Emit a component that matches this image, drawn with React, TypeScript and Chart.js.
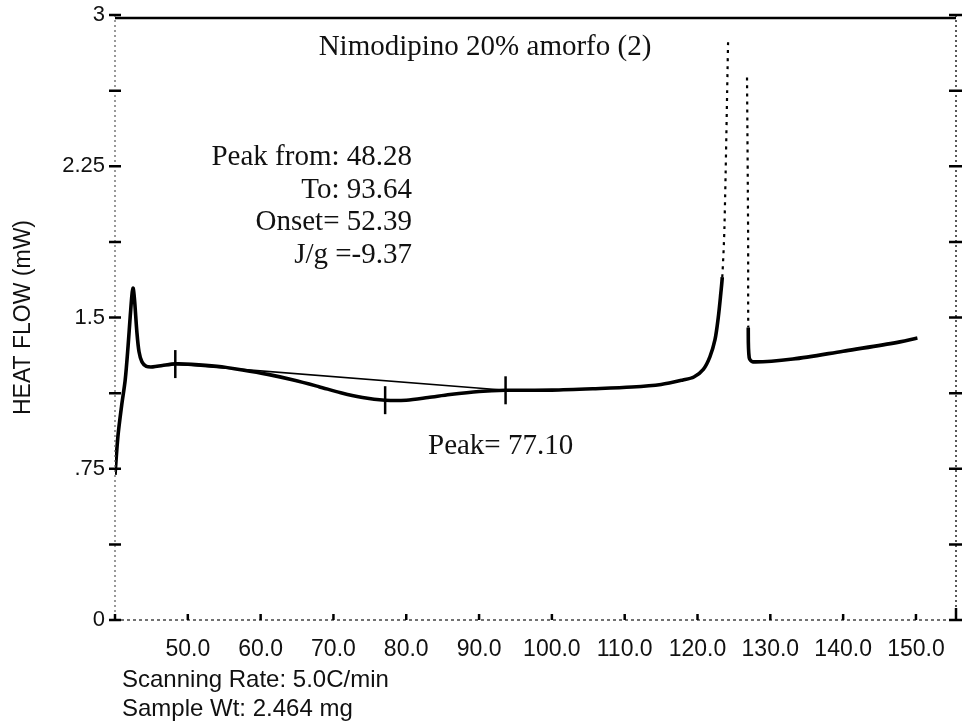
import React, { useEffect, useRef } from 'react';
import { Chart, registerables } from 'chart.js';

Chart.register(...registerables);

// ---- data ----
const tempC: number[] = [
  40.0, 40.4, 40.9, 41.4, 41.8, 42.1, 42.35, 42.5, 42.7, 43.0, 43.3, 43.7, 44.3, 45.2, 46.5,
  48.3, 50.5, 54.0, 57.5, 61.0, 64.5, 68.0, 71.0, 74.0, 77.1, 80.0, 83.0, 86.0, 90.0, 93.6,
  100.0, 106.0, 111.0, 115.0, 118.0, 119.5, 120.8, 121.7, 122.4, 122.85, 123.2, 123.4, 123.7, 124.2,
  125.5,
  126.8, 126.95, 126.97, 127.1, 127.6, 133.1, 140.0, 146.9, 150.2,
];
const heatFlow: (number | null)[] = [
  0.72, 0.91, 1.06, 1.19, 1.36, 1.51, 1.62, 1.645, 1.58, 1.43, 1.33, 1.28, 1.258, 1.255, 1.262,
  1.27, 1.268, 1.258, 1.24, 1.218, 1.19, 1.157, 1.127, 1.103, 1.09, 1.09, 1.103, 1.118, 1.133, 1.139,
  1.14, 1.147, 1.155, 1.168, 1.19, 1.205, 1.243, 1.305, 1.39, 1.5, 1.62, 1.7, 1.95, 2.87,
  null,
  2.69, 1.9, 1.45, 1.3, 1.28, 1.294, 1.333, 1.373, 1.398,
];
const peakMarkTemps = [48.28, 77.1, 93.64];
const peakMarkFlows = [1.269, 1.09, 1.139];
const baselineTemps = [48.28, 93.64];
const baselineFlows = [1.269, 1.139];

const xMin = 40;
const xMax = 155.5;
const yMin = 0;
const yMax = 3;
const xTickValues = [40, 50, 60, 70, 80, 90, 100, 110, 120, 130, 140, 150];
const yTickValues = [0, 0.375, 0.75, 1.125, 1.5, 1.875, 2.25, 2.625, 3];
const yLabelValues = [0, 0.75, 1.5, 2.25, 3];
const yLabelTexts = ['0', '.75', '1.5', '2.25', '3'];

const chartTitle = 'Nimodipino 20% amorfo (2)';
const peakInfoLines = ['Peak from: 48.28', 'To: 93.64', 'Onset= 52.39', 'J/g =-9.37'];
const peakLabel = 'Peak= 77.10';
const footerLines = ['Scanning Rate: 5.0C/min', 'Sample Wt: 2.464 mg'];
const yAxisTitle = 'HEAT FLOW (mW)';

const SANS = '"Liberation Sans", Arial, sans-serif';
const SERIF = '"Liberation Serif", "Times New Roman", serif';

const framePlugin = {
  id: 'dscFrame',
  afterDraw(chart: any) {
    const { ctx, chartArea } = chart;
    const { left, right, top, bottom } = chartArea;
    const xs = chart.scales.x;
    const ys = chart.scales.y;
    ctx.save();
    // top line (solid)
    ctx.strokeStyle = '#000';
    ctx.lineWidth = 2.5;
    ctx.setLineDash([]);
    ctx.beginPath();
    ctx.moveTo(left, top + 3);
    ctx.lineTo(right, top + 3);
    ctx.stroke();
    // left / right / bottom dotted axes
    ctx.lineWidth = 1.2;
    ctx.strokeStyle = '#555';
    ctx.setLineDash([2, 3]);
    ctx.beginPath();
    ctx.moveTo(left, top);
    ctx.lineTo(left, bottom);
    ctx.stroke();
    ctx.strokeStyle = '#222';
    ctx.lineWidth = 1.5;
    ctx.beginPath();
    ctx.moveTo(right, top);
    ctx.lineTo(right, bottom);
    ctx.stroke();
    ctx.strokeStyle = '#444';
    ctx.lineWidth = 1.3;
    ctx.setLineDash([3, 3]);
    ctx.beginPath();
    ctx.moveTo(left, bottom);
    ctx.lineTo(right, bottom);
    ctx.stroke();
    ctx.setLineDash([]);
    // y cross ticks on both sides
    ctx.strokeStyle = '#000';
    ctx.lineWidth = 2.5;
    for (const v of yTickValues) {
      const py = ys.getPixelForValue(v);
      ctx.beginPath();
      ctx.moveTo(left - 6, py);
      ctx.lineTo(left + 6, py);
      ctx.moveTo(right - 7, py);
      ctx.lineTo(right + 6, py);
      ctx.stroke();
    }
    // x small ticks
    for (const v of xTickValues) {
      const px = xs.getPixelForValue(v);
      ctx.beginPath();
      ctx.moveTo(px, bottom);
      ctx.lineTo(px, bottom - 6);
      ctx.stroke();
    }
    ctx.beginPath();
    ctx.moveTo(right, bottom);
    ctx.lineTo(right, bottom - 12);
    ctx.stroke();
    // texts
    ctx.fillStyle = '#111';
    ctx.textBaseline = 'alphabetic';
    ctx.font = `29px ${SERIF}`;
    ctx.textAlign = 'center';
    ctx.fillText(chartTitle, 485, 55);
    ctx.textAlign = 'right';
    peakInfoLines.forEach((t, i) => ctx.fillText(t, 412, 165 + i * 32.5));
    ctx.textAlign = 'left';
    ctx.fillText(peakLabel, 428, 454);
    ctx.font = `24px ${SANS}`;
    footerLines.forEach((t, i) => ctx.fillText(t, 122, 687 + i * 29));
    ctx.restore();
  },
};

export default function App() {
  const canvasRef = useRef<HTMLCanvasElement | null>(null);

  useEffect(() => {
    const canvas = canvasRef.current;
    if (!canvas) return;
    const curve = tempC.map((x, i) => ({ x, y: heatFlow[i] }));
    const marks = peakMarkTemps.map((x, i) => ({ x, y: peakMarkFlows[i] }));
    const base = baselineTemps.map((x, i) => ({ x, y: baselineFlows[i] }));
    const isDotted = (ctx: any) =>
      ctx.p0.parsed.x >= 123.3 && ctx.p1.parsed.x <= 127.0;

    const chart = new Chart(canvas, {
      type: 'line',
      data: {
        datasets: [
          {
            label: 'baseline',
            data: base,
            borderColor: '#000',
            borderWidth: 1.6,
            pointRadius: 0,
            tension: 0,
          },
          {
            label: 'heat flow',
            data: curve,
            borderColor: '#000',
            borderWidth: 3.6,
            pointRadius: 0,
            tension: 0.3,
            spanGaps: false,
            segment: {
              borderDash: (ctx: any) => (isDotted(ctx) ? [3, 5] : undefined),
              borderWidth: (ctx: any) => (isDotted(ctx) ? 2.2 : undefined),
            },
          } as any,
          {
            label: 'marks',
            data: marks,
            showLine: false,
            pointStyle: 'line',
            rotation: 90,
            pointRadius: 14,
            pointBorderWidth: 2.5,
            borderColor: '#000',
            pointBorderColor: '#000',
          } as any,
        ],
      },
      options: {
        animation: false,
        responsive: false,
        devicePixelRatio: 1,
        layout: { autoPadding: false, padding: { left: 0, right: 6, top: 15, bottom: 0 } },
        plugins: {
          legend: { display: false },
          tooltip: { enabled: false },
          title: { display: false },
        },
        scales: {
          x: {
            type: 'linear',
            min: xMin,
            max: xMax,
            grid: { display: false, drawTicks: false },
            border: { display: false },
            afterBuildTicks: (scale: any) => {
              scale.ticks = xTickValues.map((value) => ({ value }));
            },
            afterFit: (scale: any) => {
              scale.height = 104;
              scale.paddingLeft = 0;
              scale.paddingRight = 0;
            },
            ticks: {
              autoSkip: false,
              maxRotation: 0,
              padding: 16,
              color: '#111',
              font: { family: SANS, size: 23 },
              callback: (v: any) => (Number(v) === xMin ? '' : Number(v).toFixed(1)),
            },
          },
          y: {
            type: 'linear',
            min: yMin,
            max: yMax,
            grid: { display: false, drawTicks: false },
            border: { display: false },
            afterBuildTicks: (scale: any) => {
              scale.ticks = yTickValues.map((value) => ({ value }));
            },
            afterFit: (scale: any) => {
              scale.width = 115;
              scale.paddingTop = 0;
              scale.paddingBottom = 0;
            },
            ticks: {
              autoSkip: false,
              padding: 10,
              color: '#111',
              font: { family: SANS, size: 22 },
              callback: (v: any) => {
                const idx = yLabelValues.indexOf(Number(v));
                return idx >= 0 ? yLabelTexts[idx] : '';
              },
            },
            title: {
              display: true,
              text: yAxisTitle,
              color: '#111',
              font: { family: SANS, size: 23, weight: 'normal' },
              padding: { top: 10, bottom: 0 },
            },
          },
        },
      },
      plugins: [framePlugin],
    } as any);
    return () => chart.destroy();
  }, []);

  return (
    <div style={{ position: 'absolute', left: 0, top: 0, width: 962, height: 724, background: '#fff' }}>
      <canvas ref={canvasRef} width={962} height={724} style={{ display: 'block', width: 962, height: 724 }} />
    </div>
  );
}
